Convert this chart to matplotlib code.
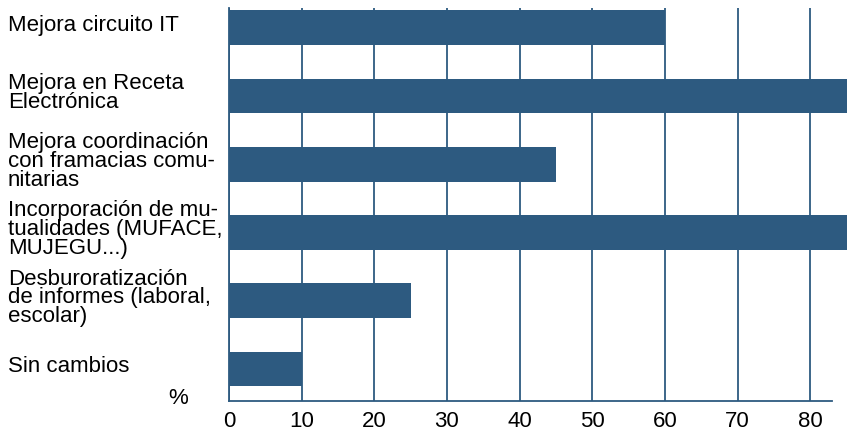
import matplotlib.pyplot as plt
import matplotlib.transforms as mtransforms

categories = [
    "Mejora circuito IT",
    "Mejora en Receta\nElectrónica",
    "Mejora coordinación\ncon framacias comu-\nnitarias",
    "Incorporación de mu-\ntualidades (MUFACE,\nMUJEGU...)",
    "Desburoratización\nde informes (laboral,\nescolar)",
    "Sin cambios",
]
values = [60, 85, 45, 85, 25, 10]
xticks = [0, 10, 20, 30, 40, 50, 60, 70, 80]

blue = "#2d5a80"
plt.rcParams['font.family'] = ['Liberation Sans', 'DejaVu Sans']

fig = plt.figure(figsize=(8.5, 4.37), dpi=100)
ax = fig.add_axes([0.2694, 0.0824, 0.7094, 0.8993])

ypos = list(range(len(categories)))
bars = ax.barh(ypos, values, height=0.51, color=blue, zorder=3)
for b in bars:
    b.set_clip_on(False)

ax.set_xlim(0, 83)
ax.set_ylim(5.47, -0.29)
ax.set_xticks(xticks)
ax.set_yticks([])
ax.grid(axis='x', color=blue, linewidth=1.3, zorder=1)
ax.tick_params(axis='x', length=0, labelsize=16, pad=7, labelcolor='black')

for side in ['top', 'right']:
    ax.spines[side].set_visible(False)
for side in ['left', 'bottom']:
    ax.spines[side].set_color(blue)
    ax.spines[side].set_linewidth(1.3)

trans = mtransforms.blended_transform_factory(fig.transFigure, ax.transData)
for y, lab in zip(ypos, categories):
    ax.text(8 / 850, y - 0.04, lab, transform=trans, ha='left', va='center',
            fontsize=16, linespacing=0.86, color='black')

fig.text(178 / 850, 1 - 398 / 437, "%", ha='center', va='center', fontsize=16)

fig.savefig("out.png", dpi=100)
